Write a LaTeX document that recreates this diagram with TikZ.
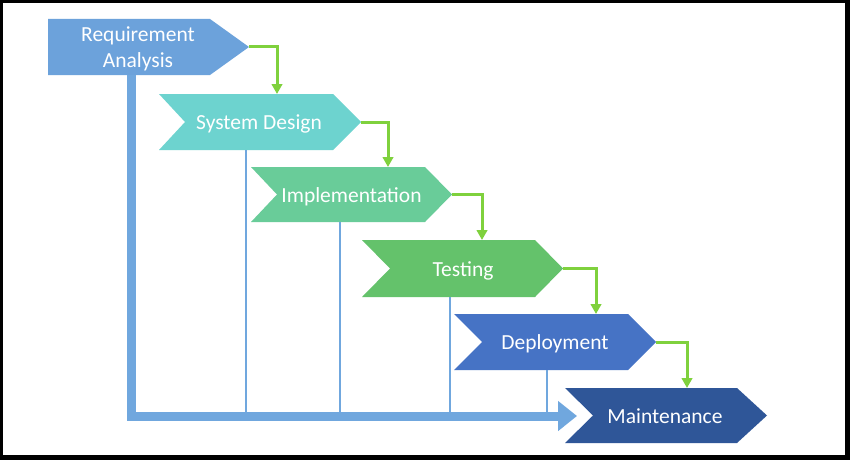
\documentclass[tikz,border=0pt]{standalone}
\usepackage{fontspec}
\setmainfont{Carlito}
\usetikzlibrary{arrows.meta}
\definecolor{racol}{HTML}{6CA2DB}
\definecolor{sdcol}{HTML}{6DD3CF}
\definecolor{imcol}{HTML}{69CC99}
\definecolor{tecol}{HTML}{64C26B}
\definecolor{decol}{HTML}{4673C5}
\definecolor{macol}{HTML}{2F5698}
\definecolor{flowcol}{HTML}{70A7DE}
\definecolor{linkcol}{HTML}{7FD13D}
\tikzset{
  label text/.style={text=white, inner sep=0pt, anchor=base, align=center,
    font=\fontsize{21.5}{25.5}\selectfont},
  link/.style={draw=linkcol, line width=3pt, -{Triangle[length=10pt,width=10.5pt]}},
  drop/.style={draw=flowcol, line width=2.5pt},
  flow/.style={draw=flowcol, line width=9pt, -{Triangle[length=19pt,width=29pt]}},
}
\begin{document}
\begin{tikzpicture}[x=1pt,y=-1pt]
\useasboundingbox (0,0) rectangle (850,460);
\fill[black] (0,0) rectangle (850,460);
\fill[white] (3,3) rectangle (845,455);

% chevrons
\fill[racol] (48,19) -- (210,19) -- (249,47) -- (210,75) -- (48,75) -- cycle;
\fill[sdcol] (159,94) -- (333,94) -- (361,122) -- (333,150) -- (159,150) -- (185,122) -- cycle;
\fill[imcol] (251,167) -- (425,167) -- (452,194.5) -- (425,222) -- (251,222) -- (277,194.5) -- cycle;
\fill[tecol] (362,240) -- (535,240) -- (563,268.5) -- (535,297) -- (362,297) -- (390,268.5) -- cycle;
\fill[decol] (454,314) -- (628,314) -- (656,342) -- (628,370) -- (454,370) -- (482,342) -- cycle;
\fill[macol] (565,388) -- (737,388) -- (767,415.5) -- (737,443) -- (565,443) -- (593,415.5) -- cycle;

% anchor points
\coordinate (ra-tip) at (249,47);
\coordinate (ra-foot) at (131,75);
\coordinate (sd-in) at (277,94);
\coordinate (sd-tip) at (361,122);
\coordinate (sd-foot) at (246,150);
\coordinate (im-in) at (388,167);
\coordinate (im-tip) at (452,194.5);
\coordinate (im-foot) at (340,222);
\coordinate (te-in) at (482,240);
\coordinate (te-tip) at (563,268.5);
\coordinate (te-foot) at (450,297);
\coordinate (de-in) at (596,314);
\coordinate (de-tip) at (656,342);
\coordinate (de-foot) at (547,370);
\coordinate (ma-in) at (687,388);
\coordinate (corner) at (131,416);
\coordinate (ma-entry) at (577,416);

% labels
\node[label text] (ra) at (138,67) {Requirement\\Analysis};
\node[label text] (sd) at (259,129.5) {System Design};
\node[label text] (im) at (351.5,202) {Implementation};
\node[label text] (te) at (463,276) {Testing};
\node[label text] (de) at (555,349.5) {Deployment};
\node[label text] (ma) at (665,423) {Maintenance};

% thin drops
\draw[drop] (sd-foot) -- (sd-foot |- corner);
\draw[drop] (im-foot) -- (im-foot |- corner);
\draw[drop] (te-foot) -- (te-foot |- corner);
\draw[drop] (de-foot) -- (de-foot |- corner);

% main flow
\draw[flow] (ra-foot) -- (corner) -- (ma-entry);

% step links
\draw[link] (ra-tip) -| (sd-in);
\draw[link] (sd-tip) -| (im-in);
\draw[link] (im-tip) -| (te-in);
\draw[link] (te-tip) -| (de-in);
\draw[link] (de-tip) -| (ma-in);
\end{tikzpicture}
\end{document}
